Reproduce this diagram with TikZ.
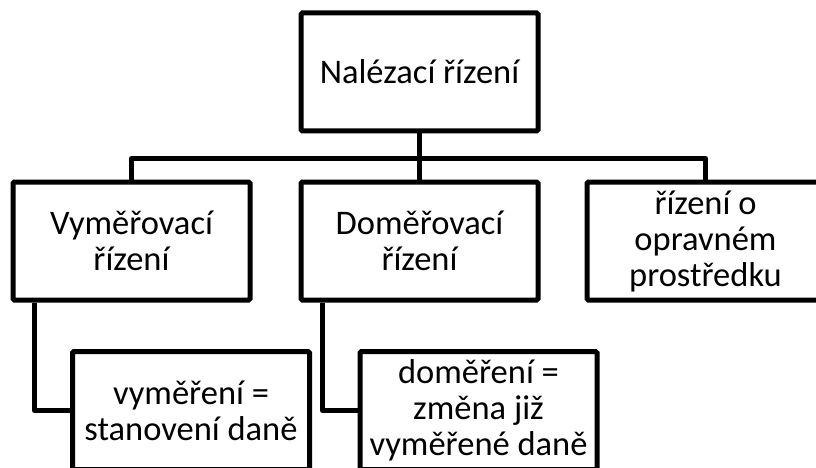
\documentclass[tikz,border=0pt]{standalone}
\usepackage{fontspec}
\setmainfont{Carlito}
\usetikzlibrary{calc}
\tikzset{
  box/.style={draw=black, line width=5pt, rounded corners=1.5pt, fill=white,
    minimum width=237pt, minimum height=118pt, inner sep=0pt, align=center,
    font=\fontsize{34.5}{36}\selectfont, text=black},
  conn/.style={draw=black, line width=5pt, line join=round}
}
\begin{document}
\begin{tikzpicture}[x=1pt,y=1pt]
\useasboundingbox (0,0) rectangle (816,-468);
\clip (0,0) rectangle (816,-468);
% nodes
\node[box] (top) at (419.5,-72) {Nalézací řízení};
\node[box] (vym) at (131.5,-241) {Vyměřovací\\řízení};
\node[box] (dom) at (419.5,-241) {Doměřovací\\řízení};
\node[box] (opr) at (705.5,-241) {řízení o\\opravném\\prostředku};
\node[box] (vyc) at (191,-410.5) {vyměření =\\stanovení daně};
\node[box] (doc) at (478.5,-410.5) {doměření =\\změna již\\vyměřené daně};
% connectors
\coordinate (bar) at ($(top.south)+(0,-25)$);
\draw[conn] (top.south) -- (dom.north);
\draw[conn] (vym.north) |- (bar) -| (opr.north);
\draw[conn] ([xshift=24pt]vym.south west) |- (vyc.west);
\draw[conn] ([xshift=24pt]dom.south west) |- (doc.west);
\end{tikzpicture}
\end{document}
